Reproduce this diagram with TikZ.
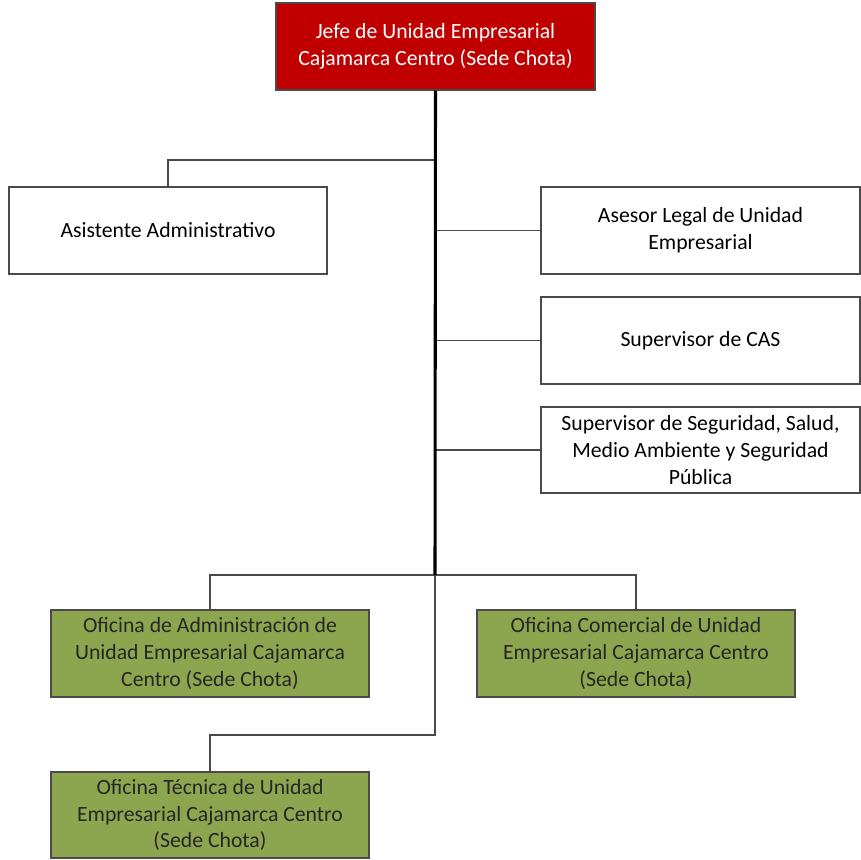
\documentclass[tikz,border=0pt]{standalone}
\usepackage{fontspec}
\setmainfont{Carlito}
\definecolor{jeferojo}{HTML}{C00000}
\definecolor{oficinaverde}{HTML}{8EA54F}
\definecolor{lineagris}{HTML}{4A4A4A}

\begin{document}
\begin{tikzpicture}[x=0.75pt,y=-0.75pt,
  cargo/.style={draw=lineagris,line width=1.3pt,minimum width=239pt,minimum height=65pt,
    inner sep=0pt,align=center,font=\fontsize{16.3}{20}\selectfont},
  jefe/.style={cargo,fill=jeferojo,text=white},
  oficina/.style={cargo,fill=oficinaverde,text=black!85},
  enlace/.style={draw=lineagris,line width=1.4pt}]
\useasboundingbox (0,0) rectangle (861,860);
\node[jefe] (jefe) at (435.5,46.5) {Jefe de Unidad Empresarial\\Cajamarca Centro (Sede Chota)};
\node[cargo,fill=white] (asist) at (168,230.5) {Asistente Administrativo};
\node[cargo,fill=white] (asesor) at (700.5,230.5) {Asesor Legal de Unidad\\Empresarial};
\node[cargo,fill=white] (cas) at (700.5,340.5) {Supervisor de CAS};
\node[cargo,fill=white] (sso) at (700.5,450) {Supervisor de Seguridad, Salud,\\Medio Ambiente y Seguridad\\Pública};
\node[oficina] (admin) at (210,653.5) {Oficina de Administración de\\Unidad Empresarial Cajamarca\\Centro (Sede Chota)};
\node[oficina] (comercial) at (636,653.5) {Oficina Comercial de Unidad\\Empresarial Cajamarca Centro\\(Sede Chota)};
\node[oficina] (tecnica) at (210,815) {Oficina Técnica de Unidad\\Empresarial Cajamarca Centro\\(Sede Chota)};
\coordinate (ramaasist) at (435,160);
\coordinate (tronco) at (435,575);
\coordinate (bajo) at (435,735);
% lineas de mando
\draw[enlace] (ramaasist) -| (asist.north);
\foreach \n in {asesor,cas,sso}
  {\draw[enlace] (ramaasist |- \n.west) -- (\n.west);}
\draw[enlace] (admin.north) |- (tronco) -| (comercial.north);
\draw[enlace] (tronco) -- (bajo) -| (tecnica.north);
\draw[line width=2.3pt] (jefe.south) -- (tronco);
\end{tikzpicture}
\end{document}
